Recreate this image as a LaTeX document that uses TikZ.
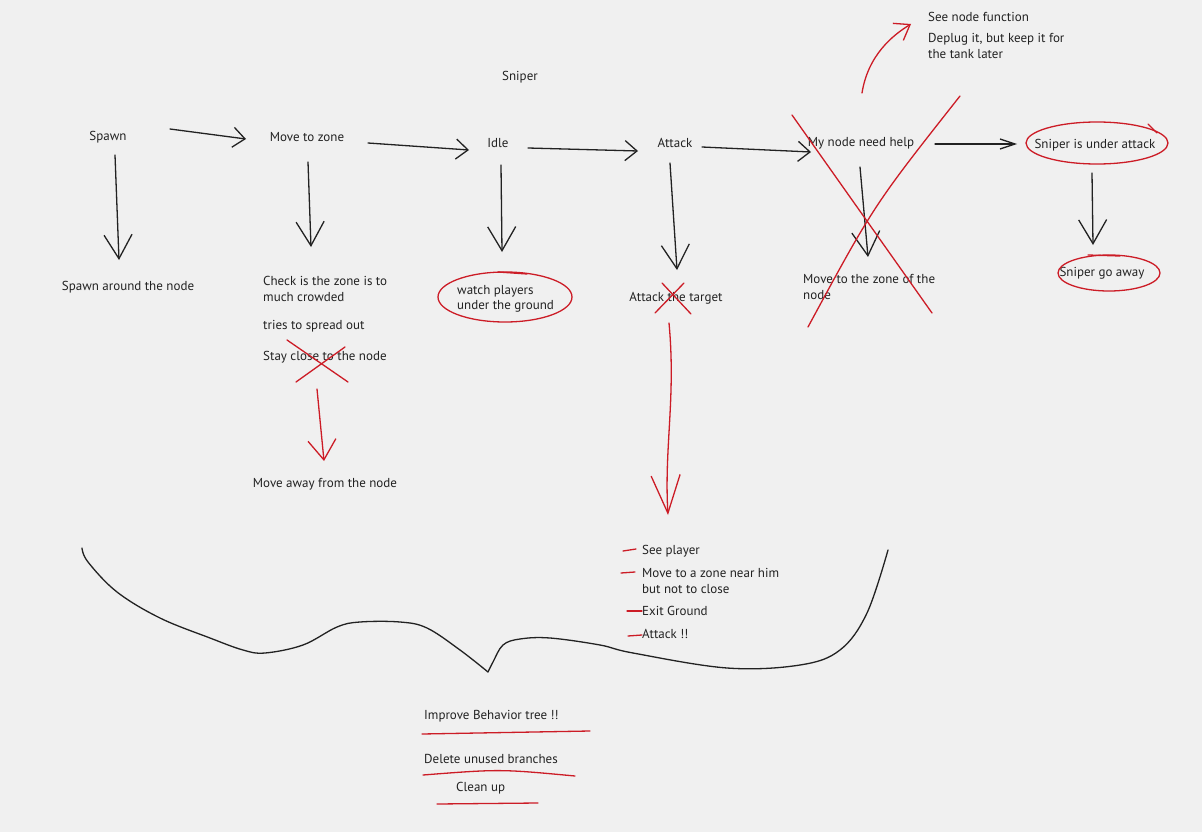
\documentclass[tikz,border=0pt]{standalone}
\usepackage{fontspec}
\setmainfont{PT Sans}
\usetikzlibrary{arrows.meta,positioning,calc}
\definecolor{boardbg}{RGB}{240,240,240}
\definecolor{penblack}{RGB}{34,34,34}
\definecolor{penred}{RGB}{204,28,38}

\begin{document}
\begin{tikzpicture}[
    x=1pt, y=-1pt,
    txt/.style={font=\fontsize{13}{15.5}\selectfont, text=penblack, inner sep=1pt},
    note/.style={txt, anchor=west, align=left},
    ink/.style={penblack, line width=1.3pt, line cap=round, line join=round},
    redink/.style={penred, line width=1.3pt, line cap=round, line join=round},
    harrow/.style={ink, -{Straight Barb[length=12pt, width=20pt]}},
    varrow/.style={ink, -{Straight Barb[length=24pt, width=28pt]}},
    redarrow/.style={redink, -{Straight Barb[length=22pt, width=29pt]}}
  ]
  \fill[boardbg] (0,0) rectangle (1202,832);

  % Title
  \node[txt] (sniper) at (520,77) {Sniper};

  % Main row
  \node[txt] (spawn) at (108,137) {Spawn};
  \node[txt] (movezone) at (307,137) {Move to zone};
  \node[txt] (idle) at (498,143) {Idle};
  \node[txt] (attack) at (675,143) {Attack};
  \node[txt] (needhelp) at (861,143) {My node need help};
  \node[txt] (underattack) at (1095,145) {Sniper is under attack};

  % Second row
  \node[txt] (spawnaround) at (128,287) {Spawn around the node};
  \node[note] (crowded) at (262,289) {Check is the zone is to\\much crowded};
  \node[note] (spread) at (262,326) {tries to spread out};
  \node[note] (stayclose) at (262,357) {Stay close to the node};
  \node[txt] (moveaway) at (325,484) {Move away from the node};
  \node[note] (watch) at (456,299) {watch players\\under the ground};
  \node[txt] (target) at (676,298) {Attack the target};
  \node[note] (zonenode) at (802,287) {Move to the zone of the\\node};
  \node[txt] (goaway) at (1102,273) {Sniper go away};

  % Notes on the top right
  \node[note] (seefunc) at (927,17) {See node function};
  \node[note] (deplug) at (927,46) {Deplug it, but keep it for\\the tank later};

  % Attack steps
  \node[note] (seeplayer) at (641,551) {See player};
  \node[note] (nearhim) at (641,581) {Move to a zone near him\\but not to close};
  \node[note] (exitground) at (641,611) {Exit Ground};
  \node[note] (attackbang) at (641,634) {Attack !!};

  % To do
  \node[note] (improve) at (423,716) {Improve Behavior tree !!};
  \node[note] (delete) at (423,759) {Delete unused branches};
  \node[note] (cleanup) at (455,788) {Clean up};

  % Flow arrows
  \draw[harrow] ($(spawn)+(62,-8)$) -- ($(movezone)+(-61,2)$);
  \draw[harrow] ($(movezone)+(61,6)$) -- ($(idle)+(-29,7)$);
  \draw[harrow] ($(idle)+(30,5)$) -- ($(attack)+(-37,8)$);
  \draw[harrow] ($(attack)+(27,4)$) -- ($(needhelp)+(-50,9)$);
  \draw[ink, -{Straight Barb[length=15pt, width=10pt]}] ($(needhelp)+(74,1)$) -- ($(underattack)+(-78,-1)$);

  % Down arrows
  \draw[varrow] ($(spawn)+(7,18)$) -- ($(spawn |- spawnaround)+(11,-27)$);
  \draw[varrow] ($(movezone)+(1,25)$) -- ($(movezone |- crowded)+(4,-42)$);
  \draw[varrow] ($(idle)+(3,22)$) -- ($(idle |- watch)+(4,-47)$);
  \draw[varrow] ($(attack)+(-5,20)$) -- ($(attack |- target)+(2,-28)$);
  \draw[varrow] ($(needhelp)+(-1,24)$) -- ($(needhelp |- zonenode)+(7,-30)$);
  \draw[varrow] ($(underattack)+(-3,28)$) -- ($(underattack |- goaway)+(-2,-28)$);

  % Red corrections
  \draw[redarrow, -{Straight Barb[length=20pt, width=28pt]}] ($(stayclose.west)+(55,32)$) -- ($(moveaway)+(-1,-23)$);
  \draw[redarrow, -{Straight Barb[length=38pt, width=29pt]}] ($(target)+(-7,25)$) .. controls ($(target)+(0,100)$) and ($(target)+(-12,150)$) .. ($(target |- seeplayer)+(-8,-36)$);
  \draw[redink, -{Straight Barb[length=14pt, width=20pt]}] ($(needhelp)+(1,-50)$) .. controls ($(needhelp)+(7,-88)$) and ($(needhelp)+(32,-108)$) .. ($(seefunc.west)+(-16,7)$);

  % Circled nodes
  \draw[redink] (505,297) ellipse [x radius=67pt, y radius=25pt];
  \draw[redink] (498,272) -- (527,274);
  \draw[redink] (1097,143) ellipse [x radius=71pt, y radius=21pt];
  \draw[redink] (1148,124) -- (1157,133);
  \draw[redink] (1109,273) ellipse [x radius=51pt, y radius=18pt];
  \draw[redink] (1088,255) -- (1120,256);

  % Crossed out
  \draw[redink] (287,340) -- (348,382);
  \draw[redink] (296,382) -- (345,347);
  \draw[redink] (662,283) -- (691,314);
  \draw[redink] (684,283) -- (655,313);
  \draw[redink] (792,115) -- (932,313);
  \draw[redink] (960,96) .. controls (874,205) .. (808,327);

  % Bullet dashes
  \draw[redink] (623,551) -- (636,549);
  \draw[redink] (621,573) -- (635,572);
  \draw[redink] (627,611) -- (642,611);
  \draw[redink] (628,636) -- (642,635);

  % Underlines
  \draw[redink] (422,734) -- (590,731);
  \draw[redink] (423,775) .. controls (500,769) .. (575,776);
  \draw[redink] (437,804) -- (538,803);

  % Brace
  \draw[ink] plot[smooth, tension=0.6] coordinates {(82,548) (88,562) (117,592) (160,618) (210,638) (243,650) (265,653) (303,645) (337,627) (360,622) (400,622) (427,628) (460,650) (488,672)};
  \draw[ink] plot[smooth, tension=0.6] coordinates {(488,672) (493,662) (503,645) (520,639) (550,638) (600,645) (633,653) (727,668) (800,665) (840,650) (867,613) (888,550)};
\end{tikzpicture}
\end{document}
